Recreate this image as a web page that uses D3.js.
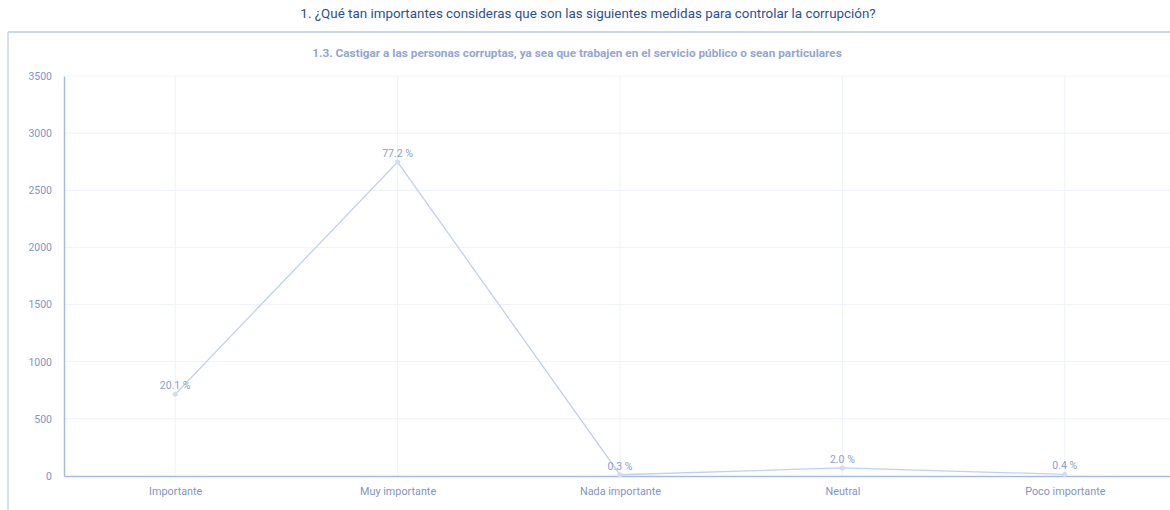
<!DOCTYPE html>
<html><head><meta charset="utf-8">
<script src="https://cdn.jsdelivr.net/npm/d3@7"></script>
<style>
body{margin:0;background:#fff;font-family:Roboto, "Noto Sans", sans-serif;}
svg{display:block}
</style></head><body>
<svg id="c" width="1170" height="510"></svg>
<script>
const title = "1. ¿Qué tan importantes consideras que son las siguientes medidas para controlar la corrupción?";
const subtitle = "1.3. Castigar a las personas corruptas, ya sea que trabajen en el servicio público o sean particulares";
const categories = ["Importante","Muy importante","Nada importante","Neutral","Poco importante"];
const counts = [715, 2747, 11, 71, 14];
const percentLabels = ["20.1 %","77.2 %","0.3 %","2.0 %","0.4 %"];
const yTicks = [0,500,1000,1500,2000,2500,3000,3500];

const svg = d3.select("#c");
const axisColor = "#a9badf", textColor = "#7f95c8", gridColor = "#eef2fa";

function fitText(sel, target){
  const w = sel.node().getComputedTextLength();
  const fs = parseFloat(sel.attr("font-size"));
  sel.attr("font-size", fs*target/w);
}

const t = svg.append("text").attr("x",588).attr("y",18).attr("text-anchor","middle")
  .attr("font-size",13).attr("fill","#2c4f93").text(title);
fitText(t, 576);

// panel border
svg.append("line").attr("x1",8).attr("x2",1170).attr("y1",32).attr("y2",32).attr("stroke","#c9d4ee").attr("stroke-width",2);
svg.append("line").attr("x1",8).attr("x2",8).attr("y1",32).attr("y2",510).attr("stroke","#c9d4ee").attr("stroke-width",1.5);

const st = svg.append("text").attr("x",577).attr("y",57).attr("text-anchor","middle")
  .attr("font-size",10).attr("font-weight","bold").attr("fill","#93a6d3").text(subtitle);
fitText(st, 530);

const x = d3.scalePoint().domain(categories).range([64,1176]).padding(0.5);
const y = d3.scaleLinear().domain([0,3500]).range([476,76]);

// grid
svg.append("g").selectAll("line").data(yTicks.slice(1)).join("line")
  .attr("x1",64).attr("x2",1170).attr("y1",d=>y(d)).attr("y2",d=>y(d)).attr("stroke",gridColor);
svg.append("g").selectAll("line").data(categories).join("line")
  .attr("x1",d=>x(d)).attr("x2",d=>x(d)).attr("y1",76).attr("y2",476).attr("stroke",gridColor);

// y axis
const ya = svg.append("g").attr("transform","translate(64,0)")
  .call(d3.axisLeft(y).tickValues(yTicks).tickFormat(d3.format("d")).tickSize(0).tickPadding(12));
ya.select(".domain").attr("stroke",axisColor).attr("stroke-width",1.5);
ya.selectAll("text").attr("fill",textColor).attr("font-size",10.5).attr("font-family","Roboto, sans-serif");

// x axis
const xa = svg.append("g").attr("transform","translate(0,476)").call(d3.axisBottom(x).tickSize(0).tickPadding(11));
xa.select(".domain").attr("stroke",axisColor).attr("stroke-width",1.5);
xa.selectAll("text").attr("fill",textColor).attr("font-size",10.8).attr("font-family","Roboto, sans-serif");

const data = categories.map((c,i)=>({c, v:counts[i], p:percentLabels[i]}));
svg.append("path").datum(data)
  .attr("d", d3.line().x(d=>x(d.c)).y(d=>y(d.v)))
  .attr("fill","none").attr("stroke","#c2cfee").attr("stroke-width",1.3);
svg.append("g").selectAll("circle").data(data).join("circle")
  .attr("cx",d=>x(d.c)).attr("cy",d=>y(d.v)).attr("r",2.5).attr("fill","#d3dcf2");
svg.append("g").selectAll("text").data(data).join("text")
  .attr("x",d=>x(d.c)).attr("y",d=>y(d.v)-5).attr("text-anchor","middle")
  .attr("font-size",10.5).attr("fill","#8a9ecf").text(d=>d.p);
</script></body></html>
